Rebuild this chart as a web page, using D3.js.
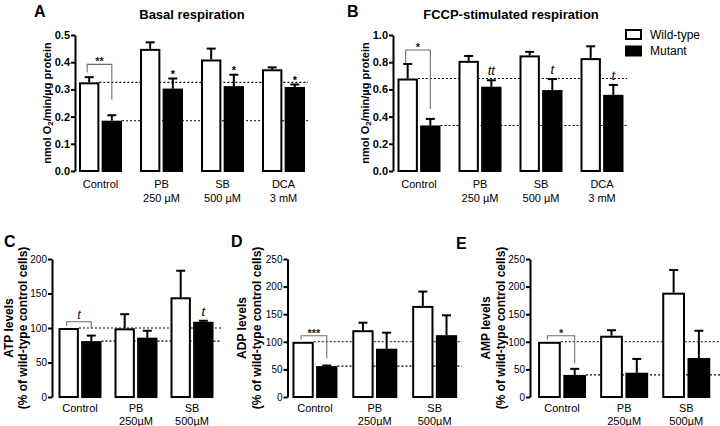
<!DOCTYPE html>
<html><head><meta charset="utf-8">
<script src="https://cdn.jsdelivr.net/npm/d3@7"></script>
<style>
html,body{margin:0;padding:0;background:#fff;}
text{font-family:"Liberation Sans",Arial,sans-serif;}
</style></head>
<body>
<svg id="chart" width="720" height="426"></svg>
<script>
// ---------- DATA ----------
const categoriesResp = [["Control"], ["PB", "250 µM"], ["SB", "500 µM"], ["DCA", "3 mM"]];
const categoriesNuc = [["Control"], ["PB", "250µM"], ["SB", "500µM"]];
const seriesNames = ["Wild-type", "Mutant"];

const basalWT = [0.326, 0.449, 0.41, 0.374];
const basalWTerr = [0.019, 0.024, 0.04, 0.007];
const basalMut = [0.185, 0.303, 0.312, 0.309];
const basalMutErr = [0.02, 0.037, 0.042, 0.009];
const basalMarks = ["", "*", "*", "*"];

const fccpWT = [0.68, 0.81, 0.85, 0.83];
const fccpWTerr = [0.107, 0.036, 0.026, 0.087];
const fccpMut = [0.335, 0.62, 0.595, 0.56];
const fccpMutErr = [0.048, 0.047, 0.081, 0.073];
const fccpMarks = ["", "tt", "t", "t"];

const atpWT = [100, 99.5, 144.5];
const atpWTerr = [0, 20.5, 38.5];
const atpMut = [81, 86, 109];
const atpMutErr = [8, 10, 1.5];
const atpMarks = ["", "", "t"];

const adpWT = [100, 121, 165];
const adpWTerr = [0, 13.6, 26];
const adpMut = [56, 87.5, 112];
const adpMutErr = [1, 29, 36];
const adpMarks = ["", "", ""];

const ampWT = [100, 111, 189];
const ampWTerr = [0, 10, 41];
const ampMut = [40, 44, 70.6];
const ampMutErr = [11, 25, 49.4];
const ampMarks = ["", "", ""];

const ticksResp = [0.0, 0.1, 0.2, 0.3, 0.4, 0.5];
const ticksFccp = [0.0, 0.2, 0.4, 0.6, 0.8, 1.0];
const ticksATP = [0, 50, 100, 150, 200];
const ticksNuc = [0, 50, 100, 150, 200, 250];

// significance brackets: label, level, left drop end, right drop end (data units)
const bracketA = {label: "**", level: 0.392, left: 0.362, right: 0.263};
const bracketB = {label: "*", level: 0.89, left: 0.795, right: 0.455};
const bracketC = {label: "t", level: 109, left: 103, right: 99.5};
const bracketD = {label: "***", level: 111, left: 104, right: 70};
const bracketE = {label: "*", level: 111, left: 104, right: 61};

// ---------- PANELS ----------
const panels = [
  {letter: "A", title: "Basal respiration", ylabel: ["nmol O|2|/min/µg protein"], cats: categoriesResp,
   wt: basalWT, wtErr: basalWTerr, mut: basalMut, mutErr: basalMutErr, marks: basalMarks,
   ticks: ticksResp, fmt: d3.format(".1f"), bracket: bracketA,
   L: {axisX: 75, yTop: 35, yBot: 171, r0: 70, r1: 314, half: 21.5, refEnd: 308, titleX: 192, titleY: 19,
       letterX: 34, letterY: 17, ylabX: [47], lab1: 188, lab2: 202, bold: true, tfs: 11, yfs: 11}},
  {letter: "B", title: "FCCP-stimulated respiration", ylabel: ["nmol O|2|/min/µg protein"], cats: categoriesResp,
   wt: fccpWT, wtErr: fccpWTerr, mut: fccpMut, mutErr: fccpMutErr, marks: fccpMarks,
   ticks: ticksFccp, fmt: d3.format(".1f"), bracket: bracketB,
   L: {axisX: 393, yTop: 35, yBot: 171, r0: 388.5, r1: 632.5, half: 21.5, refEnd: 627, titleX: 511, titleY: 19,
       letterX: 347, letterY: 17, ylabX: [365], lab1: 188, lab2: 202, bold: true, tfs: 11, yfs: 11}},
  {letter: "C", title: "", ylabel: ["ATP levels", "(% of wild-type control cells)"], cats: categoriesNuc,
   wt: atpWT, wtErr: atpWTerr, mut: atpMut, mutErr: atpMutErr, marks: atpMarks,
   ticks: ticksATP, fmt: d3.format("d"), bracket: bracketC,
   L: {axisX: 52, yTop: 259, yBot: 397, r0: 52, r1: 220, half: 21.5, refEnd: 221,
       letterX: 4, letterY: 247, ylabX: [9, 23], lab1: 412, lab2: 424.5, bold: false, tfs: 10, yfs: 12}},
  {letter: "D", title: "", ylabel: ["ADP levels", "(% of wild-type control cells)"], cats: categoriesNuc,
   wt: adpWT, wtErr: adpWTerr, mut: adpMut, mutErr: adpMutErr, marks: adpMarks,
   ticks: ticksNuc, fmt: d3.format("d"), bracket: bracketD,
   L: {axisX: 287.5, yTop: 259, yBot: 397, r0: 285, r1: 464.6, half: 22.5, refEnd: 462,
       letterX: 231, letterY: 247, ylabX: [242, 256.5], lab1: 412, lab2: 424.5, bold: false, tfs: 10, yfs: 12}},
  {letter: "E", title: "", ylabel: ["AMP levels", "(% of wild-type control cells)"], cats: categoriesNuc,
   wt: ampWT, wtErr: ampWTerr, mut: ampMut, mutErr: ampMutErr, marks: ampMarks,
   ticks: ticksNuc, fmt: d3.format("d"), bracket: bracketE,
   L: {axisX: 530, yTop: 259, yBot: 397, r0: 531, r1: 717.3, half: 24, refEnd: 720,
       letterX: 456, letterY: 249, ylabX: [486, 500.5], lab1: 412, lab2: 424.5, bold: false, tfs: 10, yfs: 12}}
];

const svg = d3.select("#chart");

panels.forEach(p => {
  const L = p.L;
  const g = svg.append("g");
  const y = d3.scaleLinear().domain([0, d3.max(p.ticks)]).range([L.yBot, L.yTop]);
  const x0 = d3.scaleBand().domain(p.cats.map((c, i) => i)).range([L.r0, L.r1]).padding(0);
  const x1 = d3.scaleBand().domain(seriesNames).range([-L.half, L.half]).paddingInner(0.1);
  const cx = i => x0(i) + x0.bandwidth() / 2;
  const bw = x1.bandwidth();

  // reference dotted lines (control levels)
  const refs = [{v: p.wt[0], s: "Wild-type"}, {v: p.mut[0], s: "Mutant"}];
  g.selectAll(".ref").data(refs).join("line")
    .attr("x1", d => cx(0) + x1(d.s) + bw).attr("x2", L.refEnd)
    .attr("y1", d => y(d.v)).attr("y2", d => y(d.v))
    .attr("stroke", "#000").attr("stroke-width", 1.1).attr("stroke-dasharray", "2,2");

  // rows
  const rows = [];
  p.cats.forEach((c, i) => {
    rows.push({i, s: "Wild-type", v: p.wt[i], e: p.wtErr[i]});
    rows.push({i, s: "Mutant", v: p.mut[i], e: p.mutErr[i]});
  });

  // error bars
  const eb = g.selectAll(".eb").data(rows.filter(d => d.e > 0)).join("g");
  eb.append("line")
    .attr("x1", d => cx(d.i) + x1(d.s) + bw / 2).attr("x2", d => cx(d.i) + x1(d.s) + bw / 2)
    .attr("y1", d => y(d.v)).attr("y2", d => y(d.v + d.e))
    .attr("stroke", "#000").attr("stroke-width", 2);
  eb.append("line")
    .attr("x1", d => cx(d.i) + x1(d.s) + bw / 2 - 4.5).attr("x2", d => cx(d.i) + x1(d.s) + bw / 2 + 4.5)
    .attr("y1", d => y(d.v + d.e)).attr("y2", d => y(d.v + d.e))
    .attr("stroke", "#000").attr("stroke-width", 2);

  // bars
  g.selectAll(".bar").data(rows).join("rect")
    .attr("x", d => cx(d.i) + x1(d.s) + 1)
    .attr("width", bw - 2)
    .attr("y", d => y(d.v) + 1)
    .attr("height", d => Math.max(0, L.yBot - y(d.v) - 1))
    .attr("fill", d => d.s === "Mutant" ? "#000" : "#fff")
    .attr("stroke", "#000").attr("stroke-width", 2);

  // marks above mutant bars
  g.selectAll(".mk").data(p.marks.map((m, i) => ({m, i})).filter(d => d.m)).join("text")
    .attr("x", d => cx(d.i) + x1("Mutant") + bw / 2)
    .attr("y", d => y(p.mut[d.i] + p.mutErr[d.i]) - (d.m === "*" ? 1 : 5))
    .attr("text-anchor", "middle")
    .attr("font-size", d => d.m === "*" ? 11 : 13)
    .attr("font-style", d => d.m === "*" ? "normal" : "italic")
    .attr("font-family", d => d.m === "*" ? null : "'Liberation Serif',serif")
    .attr("font-weight", d => d.m === "*" ? "bold" : "normal")
    .text(d => d.m);

  // bracket
  const b = p.bracket;
  const bxL = cx(0) + x1("Wild-type") + bw / 2 - 2, bxR = cx(0) + x1("Mutant") + bw / 2;
  g.append("path")
    .attr("d", `M${bxL},${y(b.left)}V${y(b.level)}H${bxR}V${y(b.right)}`)
    .attr("fill", "none").attr("stroke", "#6e6e6e").attr("stroke-width", 1.1);
  const isT = b.label === "t";
  g.append("text")
    .attr("x", (bxL + bxR) / 2).attr("y", y(b.level) - (isT ? 3 : -1))
    .attr("text-anchor", "middle")
    .attr("font-size", isT ? 13 : 11)
    .attr("font-weight", isT ? "normal" : "bold")
    .attr("font-style", isT ? "italic" : "normal")
    .attr("font-family", isT ? "'Liberation Serif',serif" : null)
    .attr("fill", "#222")
    .text(b.label);

  // y axis
  const ax = g.append("g").attr("transform", `translate(${L.axisX},0)`)
    .call(d3.axisLeft(y).tickValues(p.ticks).tickFormat(p.fmt).tickSize(4).tickSizeOuter(0).tickPadding(1));
  ax.select(".domain").attr("stroke-width", 2).attr("stroke", "#000");
  ax.selectAll(".tick line").attr("stroke-width", 2).attr("stroke", "#000");
  ax.selectAll(".tick text").attr("font-size", L.tfs)
    .attr("font-weight", L.bold ? "bold" : "normal")
    .attr("font-family", "'Liberation Sans',Arial,sans-serif").attr("fill", "#000");

  // x labels
  p.cats.forEach((c, i) => {
    c.forEach((line, k) => {
      g.append("text").attr("x", cx(i)).attr("y", k === 0 ? L.lab1 : L.lab2)
        .attr("text-anchor", "middle").attr("font-size", 11).text(line);
    });
  });

  // y label
  const midY = (L.yTop + L.yBot) / 2;
  p.ylabel.forEach((lab, k) => {
    const t = g.append("text")
      .attr("transform", `translate(${L.ylabX[k]},${midY}) rotate(-90)`)
      .attr("text-anchor", "middle").attr("dominant-baseline", "central")
      .attr("font-size", L.yfs).attr("font-weight", "bold");
    const parts = lab.split("|");
    if (parts.length === 3) {
      t.append("tspan").text(parts[0]);
      t.append("tspan").attr("font-size", 8).attr("dy", 3).text(parts[1]);
      t.append("tspan").attr("dy", -3).text(parts[2]);
    } else {
      t.text(lab);
    }
  });

  // title
  if (p.title) {
    g.append("text").attr("x", L.titleX).attr("y", L.titleY).attr("text-anchor", "middle")
      .attr("font-size", 13).attr("font-weight", "bold").text(p.title);
  }
  // panel letter
  g.append("text").attr("x", L.letterX).attr("y", L.letterY)
    .attr("font-size", 16).attr("font-weight", "bold").text(p.letter);
});

// legend
const leg = svg.append("g").attr("transform", "translate(626,30)");
seriesNames.forEach((s, i) => {
  leg.append("rect").attr("x", 0).attr("y", i * 16.5).attr("width", 15).attr("height", 9)
    .attr("fill", i === 0 ? "#fff" : "#000").attr("stroke", "#000").attr("stroke-width", 2);
  leg.append("text").attr("x", 24).attr("y", i * 16.5 + 4.5).attr("dominant-baseline", "central")
    .attr("font-size", 12).text(s);
});
</script>
</body></html>
